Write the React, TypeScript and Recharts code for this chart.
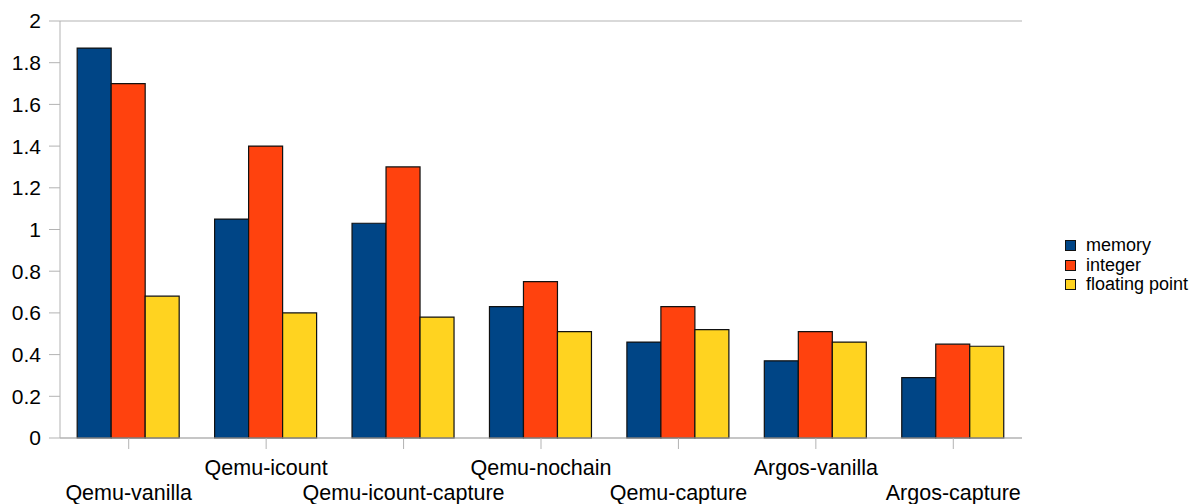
import { BarChart, Bar, XAxis, YAxis, CartesianGrid } from "recharts";

const categories = [
  "Qemu-vanilla",
  "Qemu-icount",
  "Qemu-icount-capture",
  "Qemu-nochain",
  "Qemu-capture",
  "Argos-vanilla",
  "Argos-capture",
];
const memory = [1.87, 1.05, 1.03, 0.63, 0.46, 0.37, 0.29];
const integer = [1.7, 1.4, 1.3, 0.75, 0.63, 0.51, 0.45];
const floatingPoint = [0.68, 0.6, 0.58, 0.51, 0.52, 0.46, 0.44];
const yTicks = [0, 0.2, 0.4, 0.6, 0.8, 1, 1.2, 1.4, 1.6, 1.8, 2];

const FONT = "'Liberation Sans', Arial, sans-serif";
const GRID = "#b3b3b3";

const series = [
  { key: "memory", label: "memory", color: "#004586" },
  { key: "integer", label: "integer", color: "#ff420e" },
  { key: "floatingPoint", label: "floating point", color: "#ffd320" },
];

const data = categories.map((name, i) => ({
  name,
  memory: memory[i],
  integer: integer[i],
  floatingPoint: floatingPoint[i],
}));

// Category labels alternate between two rows, like the original.
function StaggeredTick(props: any) {
  const { x, y, payload, index } = props;
  const lower = index % 2 === 0;
  return (
    <text
      x={x}
      y={y + (lower ? 51 : 26)}
      textAnchor="middle"
      fontFamily={FONT}
      fontSize={21.5}
      fill="#000"
    >
      {payload.value}
    </text>
  );
}

export default function App() {
  return (
    <div style={{ position: "absolute", left: 0, top: 0, width: 1200, height: 504, background: "#fff" }}>
      <BarChart
        width={1200}
        height={504}
        data={data}
        margin={{ top: 21, right: 178, bottom: 0, left: 0 }}
        barCategoryGap="12.5%"
        barGap={0}
      >
        <CartesianGrid vertical={false} stroke={GRID} strokeWidth={1} />
        <XAxis
          dataKey="name"
          height={66}
          interval={0}
          stroke={GRID}
          tickSize={11}
          tickMargin={0}
          tick={<StaggeredTick />}
        />
        <YAxis
          yAxisId="left"
          width={60}
          domain={[0, 2]}
          ticks={yTicks}
          stroke={GRID}
          tickSize={11}
          tickMargin={8}
          tick={{ fill: "#000", fontSize: 21, fontFamily: FONT }}
        />
        <YAxis
          yAxisId="right"
          orientation="right"
          width={0}
          domain={[0, 2]}
          ticks={yTicks}
          tick={false}
          tickLine={false}
          stroke={GRID}
        />
        {series.map((s) => (
          <Bar
            key={s.key}
            yAxisId="left"
            dataKey={s.key}
            fill={s.color}
            stroke="#111"
            strokeWidth={1.2}
            isAnimationActive={false}
          />
        ))}
      </BarChart>
      <div style={{ position: "absolute", left: 1065, top: 236, fontFamily: FONT, fontSize: 18, lineHeight: "19.5px" }}>
        {series.map((s) => (
          <div key={s.key} style={{ display: "flex", alignItems: "center" }}>
            <span
              style={{
                display: "inline-block",
                width: 9,
                height: 9,
                background: s.color,
                border: "1px solid #111",
                marginRight: 10,
              }}
            />
            <span>{s.label}</span>
          </div>
        ))}
      </div>
    </div>
  );
}
